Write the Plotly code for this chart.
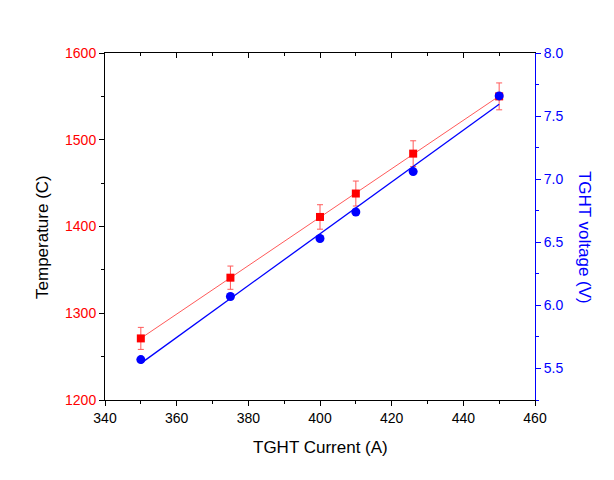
import numpy as np
import plotly.graph_objects as go

current = [350, 375, 400, 410, 426, 450]
temperature = [1271, 1341, 1411, 1438, 1484, 1550]
temp_err = [12.7, 13.4, 14.1, 14.4, 14.8, 15.5]
voltage = [5.57, 6.07, 6.53, 6.74, 7.06, 7.66]

x_ticks = [340, 360, 380, 400, 420, 440, 460]
t_ticks = [1200, 1300, 1400, 1500, 1600]
v_ticks = [5.5, 6.0, 6.5, 7.0, 7.5, 8.0]

RED = "#ff0000"
BLUE = "#0000ff"
FONT = "Arial, Liberation Sans, sans-serif"

xs = np.array(current, dtype=float)
fx = [xs.min(), xs.max()]
pt = np.polyfit(xs, temperature, 1)
pv = np.polyfit(xs, voltage, 1)

fig = go.Figure()
fig.add_trace(go.Scatter(x=fx, y=np.polyval(pt, fx), mode="lines",
                         line=dict(color="#ff5a5a", width=1), showlegend=False,
                         xaxis="x", yaxis="y"))
fig.add_trace(go.Scatter(x=current, y=temperature, mode="markers",
                         marker=dict(symbol="square", size=8, color=RED),
                         error_y=dict(type="data", array=temp_err, color="#ff5a5a",
                                      thickness=1, width=3),
                         showlegend=False, xaxis="x", yaxis="y"))
fig.add_trace(go.Scatter(x=fx, y=np.polyval(pv, fx), mode="lines",
                         line=dict(color=BLUE, width=1.3), showlegend=False,
                         xaxis="x", yaxis="y2"))
fig.add_trace(go.Scatter(x=current, y=voltage, mode="markers",
                         marker=dict(symbol="circle", size=9, color=BLUE),
                         showlegend=False, xaxis="x", yaxis="y2"))
# invisible trace to anchor the top mirror axis
fig.add_trace(go.Scatter(x=[current[0]], y=[temperature[0]], mode="markers",
                         marker=dict(opacity=0), showlegend=False, hoverinfo="skip",
                         xaxis="x2", yaxis="y"))

fig.update_layout(
    width=614, height=480,
    margin=dict(l=105, r=79, t=53, b=80),
    paper_bgcolor="white", plot_bgcolor="white",
    font=dict(family=FONT, size=14, color="black"),
    xaxis=dict(range=[340, 460], tickvals=x_ticks, ticks="outside", ticklen=5,
               tickcolor="black", showline=True, linecolor="black", linewidth=1,
               showgrid=False, zeroline=False,
               tickfont=dict(size=14, color="black"),
               minor=dict(dtick=10, ticks="outside", ticklen=3, tickcolor="black")),
    xaxis2=dict(range=[340, 460], overlaying="x", side="top", tickvals=x_ticks,
                ticks="inside", ticklen=5, tickcolor="black", showticklabels=False,
                showline=True, linecolor="black", linewidth=1, showgrid=False,
                zeroline=False,
                minor=dict(dtick=10, ticks="inside", ticklen=3, tickcolor="black")),
    yaxis=dict(range=[1200, 1600], tickvals=t_ticks, ticks="outside", ticklen=5,
               tickcolor="black", showline=True, linecolor="black", linewidth=1,
               showgrid=False, zeroline=False,
               tickfont=dict(size=14, color=RED),
               minor=dict(dtick=50, ticks="outside", ticklen=3, tickcolor="black")),
    yaxis2=dict(range=[5.25, 8.0], overlaying="y", side="right", tickvals=v_ticks,
                tickformat=".1f", ticks="outside", ticklen=5, tickcolor=BLUE,
                showline=True, linecolor=BLUE, linewidth=1, showgrid=False,
                zeroline=False, tickfont=dict(size=14, color=BLUE),
                minor=dict(dtick=0.25, ticks="outside", ticklen=3, tickcolor=BLUE)),
    annotations=[
        dict(text="Temperature (C)", xref="paper", yref="paper", x=-0.144, y=0.47,
             textangle=-90, showarrow=False, font=dict(size=17, color="black"),
             xanchor="center", yanchor="middle"),
        dict(text="TGHT voltage (V)", xref="paper", yref="paper", x=1.114, y=0.47,
             textangle=90, showarrow=False, font=dict(size=17, color=BLUE),
             xanchor="center", yanchor="middle"),
        dict(text="TGHT Current (A)", xref="paper", yref="paper", x=0.5, y=-0.138,
             showarrow=False, font=dict(size=17, color="black"),
             xanchor="center", yanchor="middle"),
    ],
)

fig.write_html("out.html")
